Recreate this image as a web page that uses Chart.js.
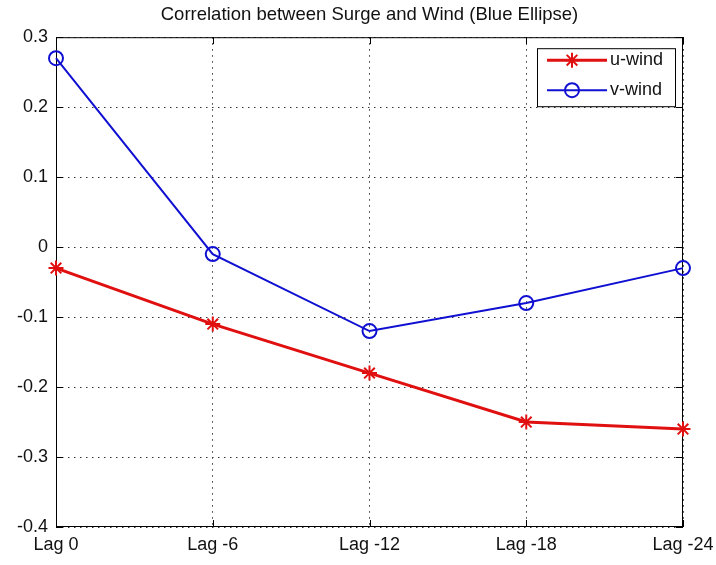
<!DOCTYPE html>
<html>
<head>
<meta charset="utf-8">
<script src="https://cdn.jsdelivr.net/npm/chart.js@4.4.1/dist/chart.umd.min.js"></script>
<style>
  html, body { margin: 0; padding: 0; background: #fff; }
</style>
</head>
<body>
<canvas id="grafico" width="716" height="565"></canvas>
<script>
// Datos
const titulo = 'Correlation between Surge and Wind (Blue Ellipse)';
const etiquetas = ['Lag 0', 'Lag -6', 'Lag -12', 'Lag -18', 'Lag -24'];
const uWind = [-0.03, -0.11, -0.18, -0.25, -0.26];
const vWind = [0.27, -0.01, -0.12, -0.08, -0.03];
const ticksY = [-0.4, -0.3, -0.2, -0.1, 0, 0.1, 0.2, 0.3];

const rojo = 'rgb(225, 16, 16)';
const azul = 'rgb(16, 16, 210)';
const fuente = "'Liberation Sans', Arial, Helvetica, sans-serif";

// Marco de ejes estilo MATLAB (caja + marcas hacia adentro)
const marcoEjes = {
  id: 'marcoEjes',
  beforeDatasetsDraw(chart) {
    const { ctx, chartArea: a, scales } = chart;
    ctx.save();
    ctx.strokeStyle = '#000';
    ctx.lineWidth = 1;
    ctx.strokeRect(a.left + 0.5, a.top + 0.5, a.right - a.left - 1, a.bottom - a.top - 1);
    const largo = 7;
    ctx.beginPath();
    scales.y.ticks.forEach((t, i) => {
      const y = Math.round(scales.y.getPixelForTick(i)) + 0.5;
      ctx.moveTo(a.left, y); ctx.lineTo(a.left + largo, y);
      ctx.moveTo(a.right, y); ctx.lineTo(a.right - largo, y);
    });
    scales.x.ticks.forEach((t, i) => {
      const x = Math.round(scales.x.getPixelForTick(i)) + 0.5;
      ctx.moveTo(x, a.bottom); ctx.lineTo(x, a.bottom - largo);
      ctx.moveTo(x, a.top); ctx.lineTo(x, a.top + largo);
    });
    ctx.stroke();
    ctx.restore();
  }
};

// Leyenda dentro del area del grafico, arriba a la derecha
const leyenda = {
  id: 'leyenda',
  afterDraw(chart) {
    const { ctx, chartArea: a } = chart;
    const ancho = 138, alto = 58;
    const x0 = a.right - 8 - ancho, y0 = a.top + 11;
    ctx.save();
    ctx.fillStyle = '#fff';
    ctx.fillRect(x0, y0, ancho, alto);
    ctx.strokeStyle = '#000';
    ctx.lineWidth = 1;
    ctx.strokeRect(x0 + 0.5, y0 + 0.5, ancho, alto);
    const filas = [12, 42];
    chart.data.datasets.forEach((ds, i) => {
      const y = y0 + filas[i];
      ctx.strokeStyle = ds.borderColor;
      ctx.lineWidth = ds.borderWidth;
      ctx.beginPath();
      ctx.moveTo(x0 + 10, y); ctx.lineTo(x0 + 70, y);
      ctx.stroke();
      const cx = x0 + 35, r = ds.pointRadius;
      ctx.lineWidth = ds.pointBorderWidth;
      ctx.beginPath();
      if (ds.pointStyle === 'circle') {
        ctx.arc(cx, y, r, 0, Math.PI * 2);
      } else {
        for (let k = 0; k < 4; k++) {
          const ang = k * Math.PI / 4;
          ctx.moveTo(cx - r * Math.cos(ang), y - r * Math.sin(ang));
          ctx.lineTo(cx + r * Math.cos(ang), y + r * Math.sin(ang));
        }
      }
      ctx.stroke();
      ctx.fillStyle = '#111';
      ctx.font = '18px ' + fuente;
      ctx.textBaseline = 'middle';
      ctx.textAlign = 'left';
      ctx.fillText(ds.label, x0 + 73, y);
    });
    ctx.restore();
  }
};

const fondoBlanco = {
  id: 'fondoBlanco',
  beforeDraw(chart) {
    const { ctx, width, height } = chart;
    ctx.save();
    ctx.fillStyle = '#fff';
    ctx.fillRect(0, 0, width, height);
    ctx.restore();
  }
};

new Chart(document.getElementById('grafico'), {
  type: 'line',
  data: {
    labels: etiquetas,
    datasets: [
      {
        label: 'u-wind',
        data: uWind,
        borderColor: rojo,
        backgroundColor: 'transparent',
        borderWidth: 3,
        pointStyle: 'star',
        pointRadius: 7.5,
        pointBorderWidth: 2,
        pointBorderColor: rojo,
        pointBackgroundColor: rojo,
        tension: 0
      },
      {
        label: 'v-wind',
        data: vWind,
        borderColor: azul,
        backgroundColor: 'transparent',
        borderWidth: 2,
        pointStyle: 'circle',
        pointRadius: 7,
        pointBorderWidth: 2,
        pointBorderColor: azul,
        pointBackgroundColor: 'transparent',
        tension: 0
      }
    ]
  },
  options: {
    responsive: false,
    animation: false,
    devicePixelRatio: 1,
    events: [],
    layout: { padding: { left: 0, right: 33, top: 0, bottom: 0 } },
    plugins: {
      legend: { display: false },
      tooltip: { enabled: false },
      title: {
        display: true,
        text: titulo,
        fullSize: false,
        color: '#111',
        font: { family: fuente, size: 18.5, weight: 'normal' },
        padding: { top: 4, bottom: 11 }
      }
    },
    scales: {
      x: {
        type: 'category',
        offset: false,
        grid: { offset: false, color: '#333', lineWidth: 1, drawTicks: false },
        border: { display: false, dash: [1.5, 4.5] },
        ticks: {
          color: '#111',
          font: { family: fuente, size: 18 },
          padding: 7,
          maxRotation: 0,
          autoSkip: false
        },
        afterFit(s) { s.height = 38; s.paddingLeft = 0; s.paddingRight = 0; }
      },
      y: {
        min: -0.4,
        max: 0.3,
        grid: { color: '#333', lineWidth: 1, drawTicks: false },
        border: { display: false, dash: [1.5, 4.5] },
        afterBuildTicks(s) { s.ticks = ticksY.map(v => ({ value: v })); },
        ticks: {
          color: '#111',
          font: { family: fuente, size: 18 },
          padding: 8,
          callback: v => String(parseFloat(v.toFixed(1)))
        },
        afterFit(s) { s.width = 56; s.paddingTop = 0; s.paddingBottom = 0; }
      }
    }
  },
  plugins: [fondoBlanco, marcoEjes, leyenda]
});
</script>
</body>
</html>
